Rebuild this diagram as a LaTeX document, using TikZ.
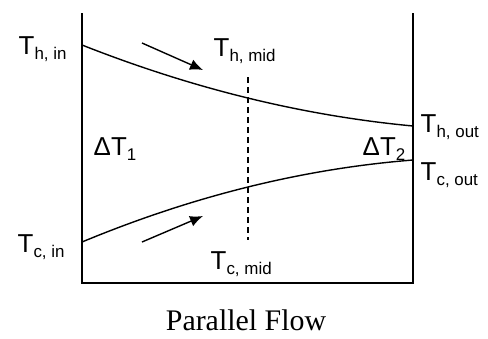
\documentclass[tikz,border=0pt]{standalone}
\usepackage{fontspec}
\setmainfont{Liberation Sans}
\newfontfamily\capfont{Liberation Serif}
\usetikzlibrary{arrows.meta}
\newcommand{\Tlab}[1]{T\raisebox{-5bp}{\fontsize{17}{17}\selectfont #1}}
\newcommand{\dTlab}[1]{ΔT\raisebox{-5bp}{\fontsize{17}{17}\selectfont #1}}
\begin{document}
\begin{tikzpicture}[x=1bp, y=-1bp, line width=1.4bp,
  lab/.style={anchor=base west, inner sep=0pt, font=\fontsize{26}{30}\selectfont},
  flowarrow/.style={-{Latex[length=13bp,width=11bp]}}]
\useasboundingbox (0,0) rectangle (488,338);
% frame
\coordinate (lt) at (82,13);
\coordinate (lb) at (82,283);
\coordinate (rt) at (413,13);
\coordinate (rb) at (413,283);
\draw (lt) -- (lb) -- (rb) -- (rt);
% hot and cold fluid
\coordinate (hin) at (82,45);
\coordinate (hout) at (413,126);
\coordinate (cin) at (82,242);
\coordinate (cout) at (413,160);
\draw (hin) .. controls (192.7,88.7) and (303.3,115.7) .. (hout);
\draw (cin) .. controls (192.7,196) and (303.3,168.7) .. (cout);
% middle
\coordinate (mtop) at (248,77);
\coordinate (mbot) at (248,240);
\draw[dash pattern=on 6bp off 4bp] (mtop) -- (mbot);
% flow direction
\coordinate (ha) at (142,43);
\coordinate (hb) at (203,70);
\coordinate (ca) at (142,242);
\coordinate (cb) at (203,216);
\draw[flowarrow] (ha) -- (hb);
\draw[flowarrow] (ca) -- (cb);
% labels
\node[lab] (thin) at (18,54) {\Tlab{h, in}};
\node[lab] (thmid) at (213,56) {\Tlab{h, mid}};
\node[lab] (thout) at (420,132) {\Tlab{h, out}};
\node[lab] (tcout) at (420,180) {\Tlab{c, out}};
\node[lab] (tcin) at (17,252) {\Tlab{c, in}};
\node[lab] (tcmid) at (210,269) {\Tlab{c, mid}};
\node[lab] (dt1) at (93,155) {\dTlab{1}};
\node[lab] (dt2) at (362,155) {\dTlab{2}};
\node[anchor=base, inner sep=0pt, font=\capfont\fontsize{30}{32}\selectfont] (title) at (246,330) {Parallel Flow};
\end{tikzpicture}
\end{document}
